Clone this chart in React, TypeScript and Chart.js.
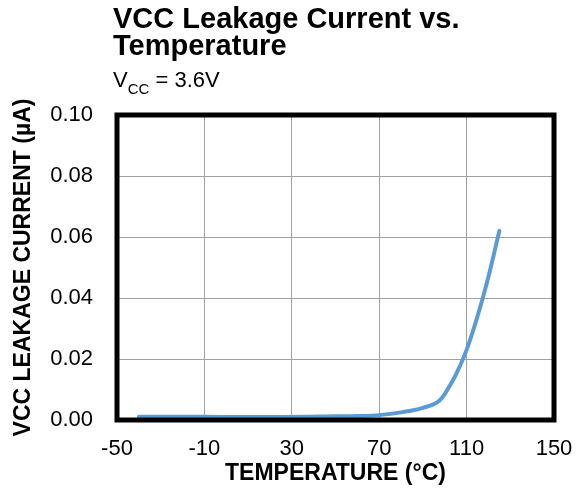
import React, { useEffect, useRef } from "react";
import { Chart, registerables } from "chart.js";

Chart.register(...registerables);

const temperatureC = [-40, -20, 0, 25, 50, 60, 70, 80, 85, 90, 95, 97.5, 100, 102.5, 105, 110, 115, 120, 125];
const leakageUA = [0.0011, 0.0011, 0.001, 0.001, 0.0012, 0.0013, 0.0016, 0.0025, 0.0031, 0.004, 0.0052, 0.0063, 0.0085, 0.0115, 0.0147, 0.023, 0.034, 0.047, 0.062];
const titleLines = ["VCC Leakage Current vs.", "Temperature"];
const subtitleMain = "V";
const subtitleSub = "CC";
const subtitleRest = " = 3.6V";
const xTitle = "TEMPERATURE (°C)";
const yTitle = "VCC LEAKAGE CURRENT (µA)";

const FONT = "'Liberation Sans', Arial, sans-serif";

const titlePlugin = {
  id: "customTitle",
  afterDraw(chart: any) {
    const ctx = chart.ctx;
    const x = chart.chartArea.left - 4;
    ctx.save();
    ctx.fillStyle = "#000";
    ctx.textAlign = "left";
    ctx.textBaseline = "alphabetic";
    ctx.font = `bold 29px ${FONT}`;
    ctx.fillText(titleLines[0], x, 28);
    ctx.fillText(titleLines[1], x, 55);
    ctx.font = `22px ${FONT}`;
    ctx.fillText(subtitleMain, x, 87);
    let cx = x + ctx.measureText(subtitleMain).width;
    ctx.font = `15px ${FONT}`;
    ctx.fillText(subtitleSub, cx, 94);
    cx += ctx.measureText(subtitleSub).width;
    ctx.font = `22px ${FONT}`;
    ctx.fillText(subtitleRest, cx, 87);
    ctx.restore();
  },
};

const borderPlugin = {
  id: "plotBorder",
  afterDatasetsDraw(chart: any) {
    const { left, right, top, bottom } = chart.chartArea;
    const ctx = chart.ctx;
    ctx.save();
    ctx.strokeStyle = "#000";
    ctx.lineWidth = 5;
    ctx.lineJoin = "miter";
    ctx.strokeRect(left, top, right - left, bottom - top);
    ctx.restore();
  },
};

export default function App() {
  const ref = useRef<HTMLCanvasElement>(null);
  useEffect(() => {
    if (!ref.current) return;
    const chart = new Chart(ref.current, {
      type: "line",
      data: {
        datasets: [
          {
            data: temperatureC.map((t, i) => ({ x: t, y: leakageUA[i] })),
            borderColor: "#5B9BD5",
            borderWidth: 4,
            pointRadius: 0,
            cubicInterpolationMode: "monotone",
            borderCapStyle: "round",
            fill: false,
          },
        ],
      },
      options: {
        animation: false,
        responsive: false,
        layout: { padding: { top: 115, right: 28, left: 0, bottom: 0 } },
        plugins: { legend: { display: false }, tooltip: { enabled: false }, title: { display: false } },
        scales: {
          x: {
            type: "linear",
            min: -50,
            max: 150,
            afterFit: (s: any) => {
              s.height = 75;
              s.paddingLeft = 0;
              s.paddingRight = 0;
            },
            ticks: {
              stepSize: 40,
              padding: 16,
              color: "#000",
              font: { family: FONT, size: 22 },
              maxRotation: 0,
            },
            grid: { color: "#A0A0A0", lineWidth: 1, drawTicks: false },
            border: { display: false },
            title: {
              display: true,
              text: xTitle,
              color: "#000",
              font: { family: FONT, size: 23, weight: "bold" },
              padding: { top: 0, bottom: 8 },
            },
          },
          y: {
            min: 0,
            max: 0.1,
            afterFit: (s: any) => {
              s.width = 117;
              s.paddingTop = 0;
              s.paddingBottom = 0;
            },
            ticks: {
              stepSize: 0.02,
              padding: 24,
              color: "#000",
              font: { family: FONT, size: 22 },
              callback: (v: any) => Number(v).toFixed(2),
            },
            grid: { color: "#A0A0A0", lineWidth: 1, drawTicks: false },
            border: { display: false },
            title: {
              display: true,
              text: yTitle,
              color: "#000",
              font: { family: FONT, size: 23, weight: "bold" },
              padding: { top: 10, bottom: 0 },
            },
          },
        },
      },
      plugins: [titlePlugin, borderPlugin],
    } as any);
    return () => chart.destroy();
  }, []);
  return (
    <div style={{ position: "fixed", left: 0, top: 0, width: 582, height: 495, background: "#fff" }}>
      <canvas ref={ref} width={582} height={495} style={{ display: "block" }} />
    </div>
  );
}
